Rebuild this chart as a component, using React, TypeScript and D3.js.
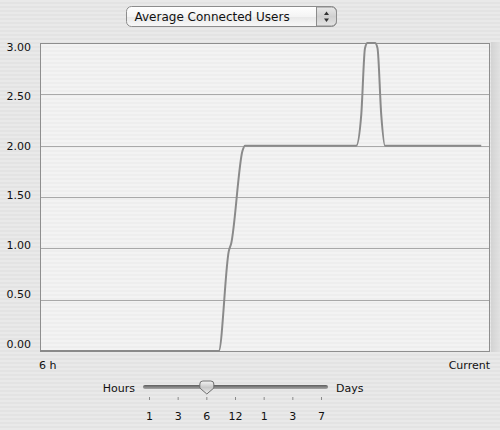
import React from "react";
import * as d3 from "d3";

// ---- data ----
// minutes since start of the 6 h window, average connected users
const minutes = [0, 143, 151, 153, 162, 164, 253, 257, 260, 262, 268, 270, 273, 276, 353];
const users = [0, 0, 0.97, 1.05, 1.95, 2, 2, 2.3, 2.95, 3, 3, 2.95, 2.3, 2, 2];
const yTicks = [0, 0.5, 1, 1.5, 2, 2.5, 3];
const xLabels = ["6 h", "Current"];
const sliderLabels = ["1", "3", "6", "12", "1", "3", "7"];
const sliderSelected = 2;
const title = "Average Connected Users";

const W = 500, H = 430;
const plot = { left: 40, right: 490, top: 43, bottom: 351 };
const FONT = "'DejaVu Sans', sans-serif";

export default function App() {
  const x = d3.scaleLinear().domain([0, 360]).range([plot.left, plot.right]);
  const y = d3.scaleLinear().domain([0, 3]).range([plot.bottom, plot.top]);
  const yLab = d3.scaleLinear().domain([0, 3]).range([344, 47]);
  const pts = minutes.map((m, i) => [m, users[i]] as [number, number]);
  const line = d3
    .line<[number, number]>()
    .x((d) => x(d[0]))
    .y((d) => y(d[1]))
    .curve(d3.curveMonotoneX);
  const path = line(pts) || "";

  const sx = d3.scalePoint<number>().domain(d3.range(sliderLabels.length)).range([149.5, 321.5]);
  const kx = sx(sliderSelected)!;

  return (
    <svg width={W} height={H} style={{ position: "absolute", left: 0, top: 0 }}>
      <defs>
        <pattern id="stripes" width="4" height="4" patternUnits="userSpaceOnUse">
          <rect width="4" height="4" fill="#e3e3e3" />
          <rect width="4" height="2" fill="#e9e9e9" />
        </pattern>
        <pattern id="plotStripes" width="4" height="4" patternUnits="userSpaceOnUse">
          <rect width="4" height="4" fill="#eeeeee" />
          <rect width="4" height="2" fill="#f3f3f3" />
        </pattern>
        <linearGradient id="btn" x1="0" y1="0" x2="0" y2="1">
          <stop offset="0" stopColor="#ffffff" />
          <stop offset="0.5" stopColor="#f4f4f4" />
          <stop offset="0.55" stopColor="#e9e9e9" />
          <stop offset="1" stopColor="#f8f8f8" />
        </linearGradient>
        <linearGradient id="step" x1="0" y1="0" x2="0" y2="1">
          <stop offset="0" stopColor="#e8e8e8" />
          <stop offset="0.5" stopColor="#d0d0d0" />
          <stop offset="1" stopColor="#e4e4e4" />
        </linearGradient>
        <linearGradient id="track" x1="0" y1="0" x2="0" y2="1">
          <stop offset="0" stopColor="#5e5e5e" />
          <stop offset="1" stopColor="#a8a8a8" />
        </linearGradient>
        <linearGradient id="knob" x1="0" y1="0" x2="0" y2="1">
          <stop offset="0" stopColor="#f4f4f4" />
          <stop offset="0.5" stopColor="#c8c8c8" />
          <stop offset="1" stopColor="#f0f0f0" />
        </linearGradient>
        <linearGradient id="edge" x1="0" y1="0" x2="1" y2="0">
          <stop offset="0" stopColor="#cfcfcf" />
          <stop offset="1" stopColor="#e0e0e0" />
        </linearGradient>
      </defs>

      <rect width={W} height={H} fill="url(#stripes)" />
      <rect x={plot.right + 1} y={plot.top - 1} width={9} height={plot.bottom - plot.top + 2} fill="url(#edge)" opacity={0.8} />

      {/* popup button */}
      <rect x={126.5} y={6.5} width={210} height={20} rx={5} fill="url(#btn)" stroke="#8c8c8c" />
      <path d="M316.5,7 V26 H331.5 a5,5 0 0 0 5,-5 V12 a5,5 0 0 0 -5,-5 Z" fill="url(#step)" stroke="#8c8c8c" />
      <path d="M326.5,11.5 l-2.5,3.5 h5 Z" fill="#333" />
      <path d="M326.5,22 l-2.5,-3.5 h5 Z" fill="#333" />
      <text x={134.5} y={20.5} fontFamily={FONT} fontSize={12} fill="#111">{title}</text>

      {/* plot */}
      <rect x={plot.left} y={plot.top} width={plot.right - plot.left} height={plot.bottom - plot.top} fill="url(#plotStripes)" />
      {yTicks.slice(1, -1).map((t) => (
        <line key={t} x1={plot.left} x2={plot.right} y1={Math.round(y(t)) + 0.5} y2={Math.round(y(t)) + 0.5} stroke="#a9a9a9" />
      ))}
      <rect x={plot.left + 0.5} y={plot.top + 0.5} width={plot.right - plot.left - 1} height={plot.bottom - plot.top} fill="none" stroke="#8e8e8e" />
      <path d={path} fill="none" stroke="#8a8a8a" strokeWidth={2} strokeLinejoin="round" />

      {yTicks.map((t) => (
        <text key={t} x={31} y={yLab(t)} dy="0.35em" textAnchor="end" fontFamily={FONT} fontSize={11} fill="#111">
          {t.toFixed(2)}
        </text>
      ))}
      <text x={39} y={369} fontFamily={FONT} fontSize={11} fill="#111">{xLabels[0]}</text>
      <text x={490} y={369} textAnchor="end" fontFamily={FONT} fontSize={11} fill="#111">{xLabels[1]}</text>

      {/* slider */}
      <text x={135} y={392} textAnchor="end" fontFamily={FONT} fontSize={11} fill="#111">Hours</text>
      <text x={336} y={392} fontFamily={FONT} fontSize={11} fill="#111">Days</text>
      <rect x={143} y={385} width={185} height={4} rx={2} fill="url(#track)" />
      {sliderLabels.map((l, i) => (
        <g key={i}>
          <line x1={sx(i)} x2={sx(i)} y1={397} y2={400} stroke="#8a8a8a" />
          <text x={sx(i)} y={420} textAnchor="middle" fontFamily={FONT} fontSize={11} fill="#111">{l}</text>
        </g>
      ))}
      <path
        d={`M${kx - 7},${384} a3,3 0 0 1 3,-3 h8 a3,3 0 0 1 3,3 v4 l-7,6 l-7,-6 Z`}
        fill="url(#knob)"
        stroke="#6e6e6e"
      />
    </svg>
  );
}
